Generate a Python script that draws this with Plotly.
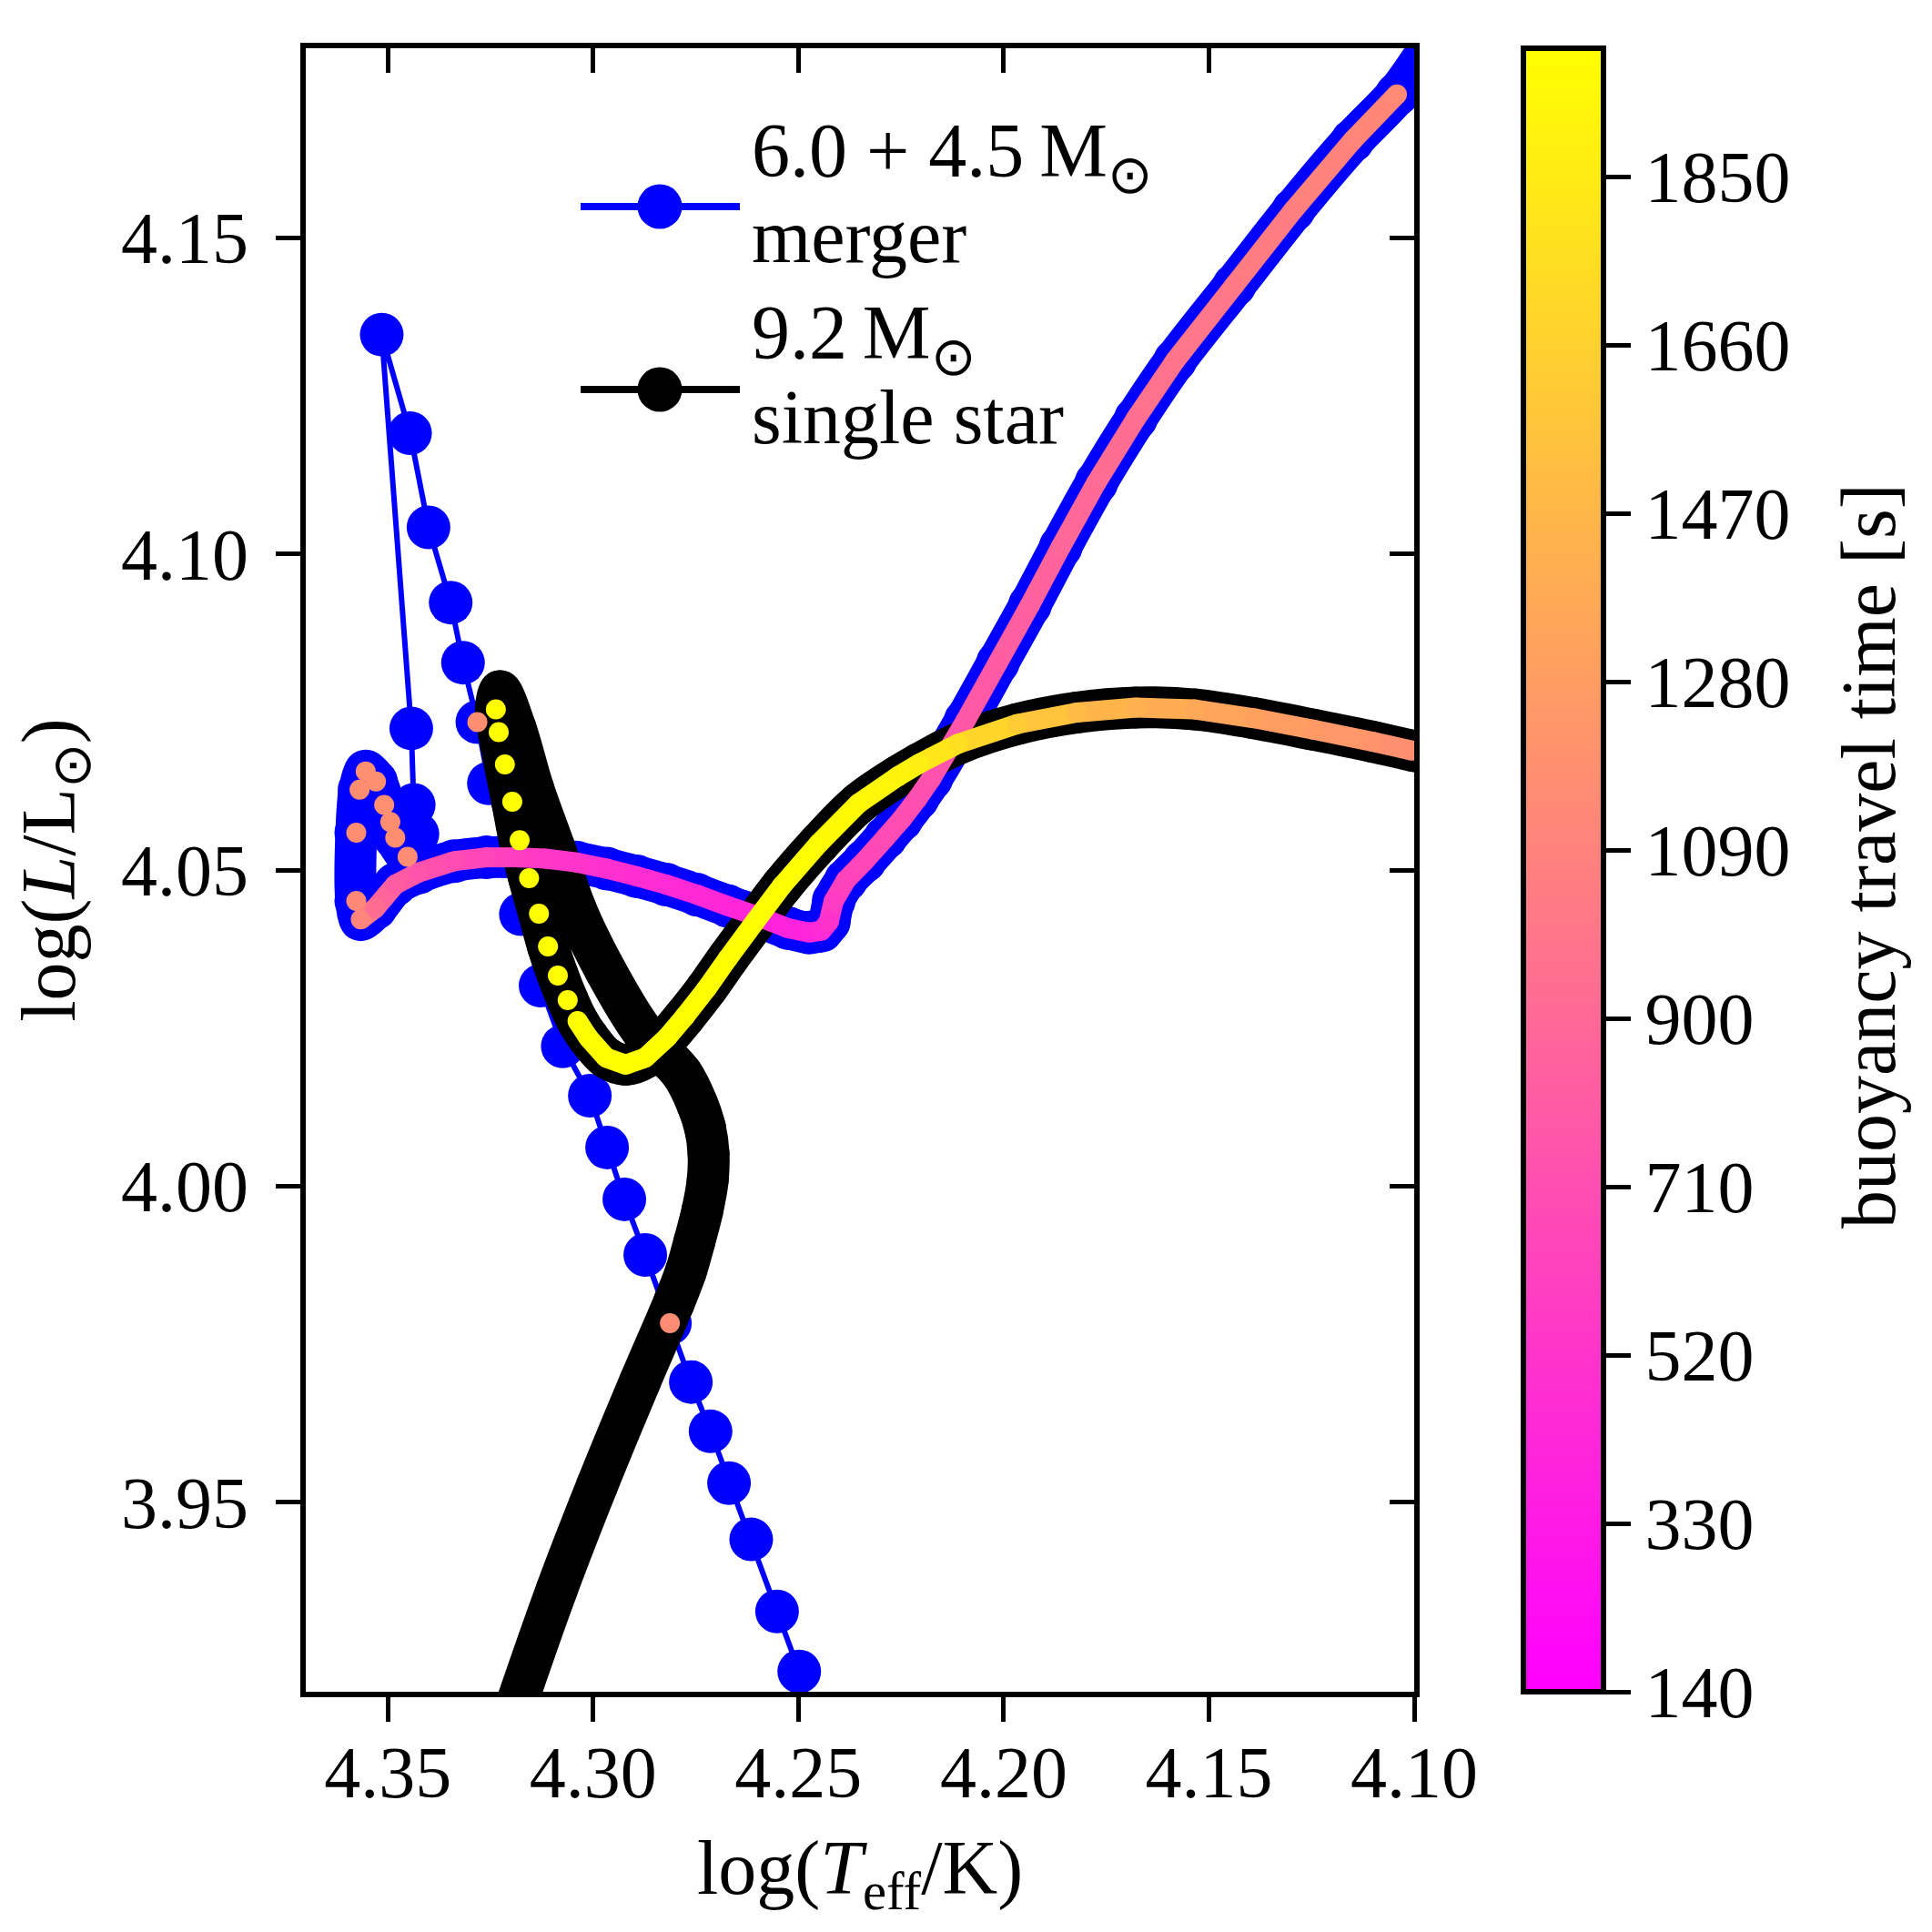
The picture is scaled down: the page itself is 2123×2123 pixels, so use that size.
import plotly.graph_objects as go
from plotly.colors import sample_colorscale

# ---------------- data ----------------
# 6.0 + 4.5 Msun merger: fast thermal relaxation after the merger
merger_fast_logT = [4.2498, 4.2552, 4.2615, 4.2669, 4.2714, 4.2762, 4.2813, 4.2873, 4.2924, 4.2966,
                    4.3008, 4.3074, 4.3128, 4.3176, 4.3254, 4.3282, 4.3317, 4.3347, 4.3401, 4.3446,
                    4.3515, 4.3443, 4.3437, 4.3428]
merger_fast_logL = [3.9232, 3.9327, 3.9441, 3.9530, 3.9612, 3.9690, 3.9783, 3.9891, 3.9979, 4.0061,
                    4.0143, 4.0221, 4.0317, 4.0430, 4.0637, 4.0734, 4.0828, 4.0923, 4.1042, 4.1191,
                    4.1347, 4.0724, 4.0603, 4.0557]
merger_fast_tbuoy = [None, None, None, None, None, None, 1160, None, None, None,
                     None, None, None, None, None, 1170, None, None, None, None,
                     None, None, None, None]

# merger: settling loop and main sequence
merger_ms_logT = [4.3452, 4.3482, 4.3494, 4.3509, 4.3529, 4.3554, 4.3569, 4.3577, 4.3577, 4.3566,
                  4.3530, 4.3482, 4.3425, 4.3338, 4.3260, 4.3191, 4.3116, 4.3041, 4.2966, 4.2894,
                  4.2822, 4.2747, 4.2672, 4.2600, 4.2525, 4.2474, 4.2444, 4.2426, 4.2414, 4.2384,
                  4.2339, 4.2288, 4.2249, 4.2210, 4.2177, 4.2093, 4.2014, 4.1936, 4.1861, 4.1774,
                  4.1678, 4.1582, 4.1438, 4.1294, 4.1150, 4.1042, 4.0964]
merger_ms_logL = [4.0521, 4.0551, 4.0576, 4.0603, 4.0640, 4.0656, 4.0627, 4.0559, 4.0451, 4.0422,
                  4.0440, 4.0477, 4.0496, 4.0514, 4.0520, 4.0520, 4.0518, 4.0512, 4.0502, 4.0490,
                  4.0477, 4.0461, 4.0443, 4.0427, 4.0408, 4.0401, 4.0404, 4.0418, 4.0451, 4.0484,
                  4.0514, 4.0551, 4.0580, 4.0613, 4.0644, 4.0736, 4.0828, 4.0919, 4.1011, 4.1113,
                  4.1214, 4.1306, 4.1425, 4.1544, 4.1654, 4.1727, 4.1799]
merger_ms_tbuoy = [1160, 1170, 1175, 1180, 1185, 1180, 1175, 1165, 1140, 1100,
                   930, 820, 750, 690, 640, 590, 550, 515, 490, 470,
                   450, 435, 420, 410, 400, 410, 450, 510, 580, 630,
                   660, 685, 700, 715, 730, 770, 810, 845, 880, 915,
                   950, 985, 1025, 1065, 1105, 1145, None]

# 9.2 Msun single star
single_logT = [4.3205, 4.3089, 4.2990, 4.2885, 4.2803, 4.2774, 4.2753, 4.2734, 4.2721, 4.2719,
               4.2727, 4.2746, 4.2783, 4.2879, 4.2969, 4.3041, 4.3093, 4.3146, 4.3189, 4.3227,
               4.3237, 4.3230, 4.3215, 4.3197, 4.3179, 4.3156, 4.3132, 4.3110, 4.3086, 4.3062,
               4.3038, 4.3012, 4.2968, 4.2921, 4.2873, 4.2820, 4.2777, 4.2724, 4.2672, 4.2606,
               4.2540, 4.2450, 4.2354, 4.2258, 4.2206, 4.2110, 4.1966, 4.1822, 4.1678, 4.1534,
               4.1390, 4.1246, 4.1102, 4.1006, 4.0964]
single_logL = [3.9146, 3.9361, 3.9527, 3.9692, 3.9816, 3.9865, 3.9913, 3.9961, 4.0009, 4.0052,
               4.0091, 4.0129, 4.0177, 4.0244, 4.0340, 4.0436, 4.0533, 4.0629, 4.0724, 4.0783,
               4.0754, 4.0718, 4.0667, 4.0608, 4.0547, 4.0487, 4.0431, 4.0379, 4.0333, 4.0294,
               4.0261, 4.0235, 4.0203, 4.0192, 4.0203, 4.0235, 4.0268, 4.0312, 4.0360, 4.0418,
               4.0475, 4.0542, 4.0605, 4.0648, 4.0668, 4.0700, 4.0731, 4.0749, 4.0757, 4.0754,
               4.0740, 4.0722, 4.0703, 4.0689, 4.0683]
single_tbuoy = [None, None, None, None, None, None, None, None, None, None,
                None, None, None, None, None, None, None, None, None, None,
                1990, 1990, 1990, 1990, 1990, 1990, 1990, 1990, 1990, 1990,
                1990, 1990, 1990, 1990, 1990, 1990, 1990, 1990, 1990, 1990,
                1990, 1975, 1950, 1910, 1870, 1760, 1620, 1500, 1420, 1360,
                1310, 1260, 1210, 1170, None]

legend_labels = [["6.0 + 4.5\u2009M<sub>\u2299</sub>", "merger"],
                 ["9.2\u2009M<sub>\u2299</sub>", "single star"]]
xticks = [4.35, 4.30, 4.25, 4.20, 4.15, 4.10]
yticks = [3.95, 4.00, 4.05, 4.10, 4.15]
cbar_ticks = [140, 330, 520, 710, 900, 1090, 1280, 1470, 1660, 1850]
TB_MIN, TB_MAX = 140, 1995

# ---------------- styling ----------------
FONT = "Liberation Serif, Times New Roman, serif"
SPRING = [[0.0, "#ff00ff"], [1.0, "#ffff00"]]
BLUE, BLACK = "#0000ff", "#000000"
BAND = 46          # width of dense-track band (marker diameter)
MSIZE = 48         # marker size of sparse track points
DOT = 22           # coloured dot size
TICKF = 80
LABF = 84

# plot area in pixels (figure is 2123 x 2123)
PL, PR, PT, PB = 336, 1554, 53, 1859
PW, PH = PR - PL, PB - PT


def px2paper(x, y):
    return (x - PL) / PW, 1 - (y - PT) / PH


fig = go.Figure()

merger_logT = merger_fast_logT + merger_ms_logT
merger_logL = merger_fast_logL + merger_ms_logL

# merger dense band
fig.add_trace(go.Scatter(x=merger_ms_logT, y=merger_ms_logL, mode="lines+markers",
                         line=dict(color=BLUE, width=BAND, shape="spline", smoothing=0.9),
                         marker=dict(color=BLUE, size=BAND),
                         showlegend=False, hoverinfo="skip"))
# merger line + markers
fig.add_trace(go.Scatter(x=merger_logT, y=merger_logL, mode="lines+markers",
                         line=dict(color=BLUE, width=6), marker=dict(color=BLUE, size=MSIZE),
                         name="6.0 + 4.5 Msun merger", showlegend=False))
# single star band
fig.add_trace(go.Scatter(x=single_logT, y=single_logL, mode="lines+markers",
                         line=dict(color=BLACK, width=BAND, shape="spline", smoothing=1.0),
                         marker=dict(color=BLACK, size=BAND),
                         name="9.2 Msun single star", showlegend=False, hoverinfo="skip"))


def frac(v):
    return min(max((v - TB_MIN) / (TB_MAX - TB_MIN), 0.0), 1.0)


def colored(xs, ys, vs, seg_from, seg_to, show_scale):
    # continuous coloured band between consecutive points
    for i in range(seg_from, seg_to):
        c = sample_colorscale(SPRING, [frac(0.5 * (vs[i] + vs[i + 1]))])[0]
        fig.add_trace(go.Scatter(x=xs[i:i + 2], y=ys[i:i + 2], mode="lines",
                                 line=dict(color=c, width=DOT), showlegend=False, hoverinfo="skip"))
    px = [x for x, v in zip(xs, vs) if v is not None]
    py = [y for y, v in zip(ys, vs) if v is not None]
    pv = [v for v in vs if v is not None]
    fig.add_trace(go.Scatter(
        x=px, y=py, mode="markers", showlegend=False,
        marker=dict(size=DOT, color=pv, colorscale=SPRING, cmin=TB_MIN, cmax=TB_MAX,
                    line=dict(width=0), showscale=show_scale,
                    colorbar=dict(
                        x=1.0985, xanchor="left", y=0.5, yanchor="middle", len=1.0,
                        thickness=88, xpad=0, ypad=0,
                        outlinewidth=6, outlinecolor="black",
                        ticks="outside", ticklen=27, tickwidth=5, tickcolor="black",
                        tickvals=cbar_ticks,
                        tickfont=dict(family=FONT, size=TICKF, color="black"),
                    ))))


colored(merger_fast_logT, merger_fast_logL, merger_fast_tbuoy, 0, 0, False)
colored(merger_ms_logT, merger_ms_logL, merger_ms_tbuoy, 9, 45, False)
colored(single_logT, single_logL, single_tbuoy, 30, 53, True)

# invisible trace for mirrored (inside) ticks on top / right
fig.add_trace(go.Scatter(x=[4.2], y=[4.0], xaxis="x2", yaxis="y2", mode="markers",
                         marker=dict(opacity=0), showlegend=False, hoverinfo="skip"))

# ---------------- legend (drawn manually, matplotlib style) ----------------
shapes, annotations = [], []
legend_rows = [(227, BLUE, 200, 287), (428, BLACK, 400, 487)]
for (ymid, col, b1, b2), lines in zip(legend_rows, legend_labels):
    x0, y0 = px2paper(638, ymid)
    x1, _ = px2paper(813, ymid)
    shapes.append(dict(type="line", xref="paper", yref="paper", x0=x0, x1=x1, y0=y0, y1=y0,
                       line=dict(color=col, width=8), layer="above"))
    xc, _ = px2paper(725, ymid)
    shapes.append(dict(type="circle", xref="paper", yref="paper", xsizemode="pixel", ysizemode="pixel",
                       xanchor=xc, yanchor=y0, x0=-24.5, x1=24.5, y0=-24.5, y1=24.5,
                       fillcolor=col, line=dict(color=col, width=0), layer="above"))
    for base, txt in zip((b1, b2), lines):
        tx, ty = px2paper(825, base - 28)
        annotations.append(dict(text=txt, xref="paper", yref="paper", x=tx, y=ty,
                                xanchor="left", yanchor="middle", showarrow=False, borderpad=0,
                                font=dict(family=FONT, size=LABF, color="black")))

# colorbar title
cx, cy = px2paper(2053, 941)
annotations.append(dict(text="buoyancy travel time [s]", xref="paper", yref="paper", x=cx, y=cy,
                        xanchor="center", yanchor="middle", textangle=-90, showarrow=False,
                        font=dict(family=FONT, size=LABF, color="black")))

XR = [4.37, 4.10]
YR = [3.92, 4.18]
common = dict(showgrid=False, zeroline=False, tickcolor="black", tickwidth=5, ticklen=27)
fig.update_layout(
    width=2123, height=2123,
    margin=dict(l=PL, r=2123 - PR, t=PT, b=2123 - PB),
    paper_bgcolor="white", plot_bgcolor="white",
    font=dict(family=FONT, color="black"),
    xaxis=dict(range=XR, tickvals=xticks, tickformat=".2f", ticks="outside",
               showline=True, linewidth=6, linecolor="black", mirror=True,
               tickfont=dict(family=FONT, size=TICKF), ticklabelstandoff=-13,
               title=dict(text="log(<i>T</i><sub>eff</sub>/K)", font=dict(family=FONT, size=LABF), standoff=33),
               **common),
    yaxis=dict(range=YR, tickvals=yticks, tickformat=".2f", ticks="outside",
               showline=True, linewidth=6, linecolor="black", mirror=True,
               tickfont=dict(family=FONT, size=TICKF), ticklabelstandoff=14,
               title=dict(text="log(<i>L</i>/L<sub>\u2299</sub>)", font=dict(family=FONT, size=LABF), standoff=25),
               **common),
    xaxis2=dict(range=XR, overlaying="x", side="top", anchor="y2", tickvals=xticks, ticks="inside",
                showticklabels=False, showline=False, **common),
    yaxis2=dict(range=YR, overlaying="y", side="right", anchor="x2", tickvals=yticks, ticks="inside",
                showticklabels=False, showline=False, **common),
    shapes=shapes, annotations=annotations,
    showlegend=False,
)

fig.write_html("out.html", config={"displayModeBar": False},
               post_script="document.body.style.margin='0';")
